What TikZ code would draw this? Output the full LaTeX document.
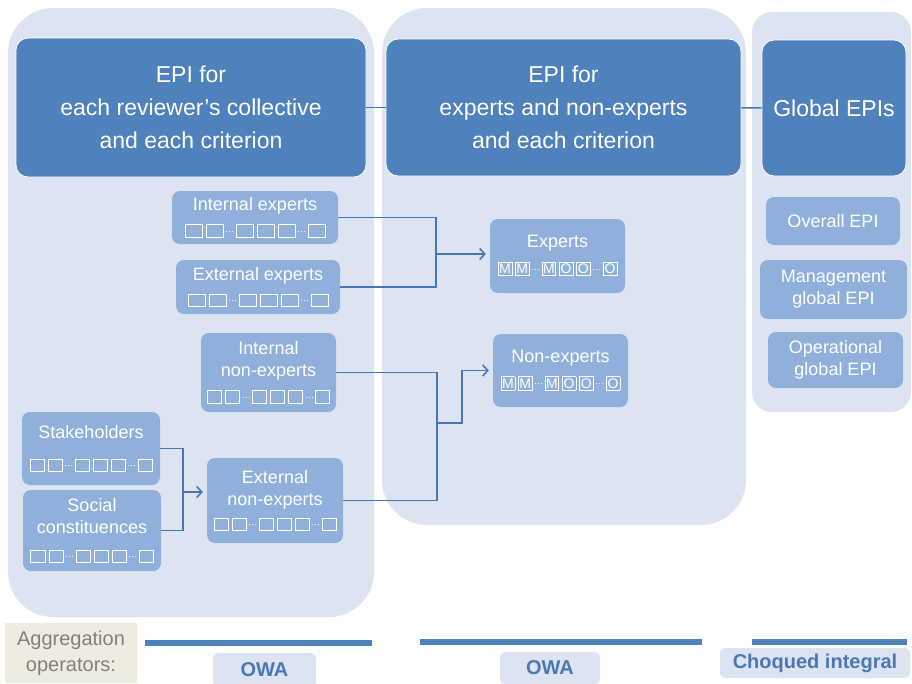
\documentclass[tikz,border=0pt]{standalone}
\usepackage{fontspec}
\setmainfont{Liberation Sans}
\usepackage{xcolor}
\usetikzlibrary{arrows.meta}

\definecolor{panelbg}{RGB}{220,228,241}
\definecolor{headblue}{RGB}{79,129,189}
\definecolor{subblue}{RGB}{143,176,218}
\definecolor{linkblue}{RGB}{70,118,182}
\definecolor{beige}{RGB}{238,236,225}
\definecolor{aggrgray}{RGB}{128,128,128}
\definecolor{opblue}{RGB}{75,120,180}

% little score boxes
\newcommand{\sqbox}[2][13pt]{{\setlength{\fboxsep}{0pt}\setlength{\fboxrule}{1pt}\fbox{\makebox[#1]{\rule[-1pt]{0pt}{11.5pt}#2}}}}
\newcommand{\lbox}[1]{{\setlength{\fboxsep}{0pt}\setlength{\fboxrule}{0.9pt}\fbox{\makebox[13pt]{\rule[-1.5pt]{0pt}{13pt}#1}}}}
\newcommand{\dotpt}{\rule{1pt}{1pt}}
\newcommand{\sqdots}{\makebox[12pt]{\color{white!85!subblue}\raisebox{4pt}{\dotpt\hspace{2pt}\dotpt\hspace{2pt}\dotpt}}}
\newcommand{\sqrow}[1][13pt]{\sqbox[#1]{}\,\sqbox[#1]{}\sqdots\sqbox[#1]{}\,\sqbox[#1]{}\,\sqbox[#1]{}\sqdots\sqbox[#1]{}}
\newcommand{\mrow}{{\fontsize{14}{14}\selectfont\lbox{M}\,\lbox{M}\sqdots\lbox{M}\,\lbox{O}\,\lbox{O}\sqdots\lbox{O}}}

\begin{document}
\begin{tikzpicture}[
  x=1pt, y=-1pt,
  panel/.style={fill=panelbg},
  head/.style={rectangle, rounded corners=12pt, fill=headblue, draw=white, thick, text=white,
               font=\fontsize{23}{33}\selectfont, align=center, inner sep=0pt},
  sub/.style={rectangle, rounded corners=8pt, fill=subblue, text=white,
              font=\fontsize{18}{22}\selectfont, align=center, inner sep=0pt},
  oper/.style={rectangle, rounded corners=5pt, fill=panelbg, text=opblue,
               font=\fontsize{20}{24}\selectfont\bfseries, inner sep=0pt},
  conn/.style={draw=linkblue, line width=1.6pt},
  arrow/.style={conn, -{Straight Barb[length=5pt, width=11pt]}, shorten >=4pt},
  bar/.style={draw=headblue, line width=6pt}
]
\useasboundingbox (0,0) rectangle (912,683);

% Panels
\fill[panel, rounded corners=45pt] (8,8) rectangle (374,617);
\fill[panel, rounded corners=45pt] (382,8) rectangle (746,525);
\fill[panel, rounded corners=20pt] (752,12) rectangle (911,412);

% Headers
\node[head, minimum width=350pt, minimum height=139pt] (h1) at (191,107.5) {EPI for\\each reviewer's collective\\and each criterion};
\node[head, minimum width=355pt, minimum height=137pt] (h2) at (563.5,107.5) {EPI for\\experts and non-experts\\and each criterion};
\node[head, minimum width=144pt, minimum height=136pt] (h3) at (834,108) {Global EPIs};

% Reviewer collectives
\node[sub, minimum width=166pt, minimum height=53pt] (intexp) at (255,217.5) {Internal experts\\[3pt]\sqrow[16pt]};
\node[sub, minimum width=164pt, minimum height=54pt] (extexp) at (258,287) {External experts\\[3pt]\sqrow[16pt]};
\node[sub, minimum width=135pt, minimum height=79pt] (intnon) at (268.5,372.5) {Internal\\non-experts\\[3pt]\sqrow};
\node[sub, minimum width=138pt, minimum height=73pt] (stake) at (91,448.5) {Stakeholders\\[10pt]\sqrow};
\node[sub, minimum width=138pt, minimum height=81pt] (social) at (92,530.5) {Social\\constituences\\[6pt]\sqrow};
\node[sub, minimum width=136pt, minimum height=85pt] (extnon) at (275,500.5) {External\\non-experts\\[2pt]\sqrow};

% Experts / non-experts
\node[sub, minimum width=135pt, minimum height=74pt] (experts) at (557.5,256) {Experts\\[4pt]\mrow};
\node[sub, minimum width=135pt, minimum height=73pt] (nonexp) at (560.5,370.5) {Non-experts\\[4pt]\mrow};

% Global EPIs
\node[sub, minimum width=134pt, minimum height=48pt] (overall) at (833,221) {Overall EPI};
\node[sub, minimum width=147pt, minimum height=59pt] (mgmt) at (833.5,289.5) {Management\\global EPI};
\node[sub, minimum width=135pt, minimum height=56pt] (operat) at (835.5,360) {Operational\\global EPI};

% Links
\draw[conn] (h1) -- (h2);
\draw[conn] (h2) -- (h3);

\coordinate (jexp) at (436,254);
\draw[conn] (intexp.east) -| (jexp);
\draw[conn] (extexp.east) -| (jexp);
\draw[arrow] (jexp) -- (jexp -| experts.west);

\coordinate (jnon) at (437,423);
\draw[conn] (intnon.east) -| (jnon);
\draw[conn] (extnon.east) -| (jnon);
\draw[arrow] (jnon) -- ++(25,0) |- (nonexp.west);

\coordinate (jstake) at (183,492);
\draw[conn] (stake.east) -| (jstake);
\draw[conn] (social.east) -| (jstake);
\draw[arrow] (jstake) -- (jstake -| extnon.west);

% Aggregation operators
\node[fill=beige, text=aggrgray, font=\fontsize{20}{26}\selectfont, align=center,
      minimum width=132pt, minimum height=60pt, inner sep=0pt] (aggr) at (71,653) {Aggregation\\operators:};
\draw[bar] (145,643) -- (372,643);
\draw[bar] (420,642) -- (702,642);
\draw[bar] (752,642) -- (907,642);
\node[oper, minimum width=103pt, minimum height=34pt] (owa1) at (264.5,670) {OWA};
\node[oper, minimum width=100pt, minimum height=32pt] (owa2) at (550,668) {OWA};
\node[oper, minimum width=190pt, minimum height=30pt] (choq) at (815,663) {Choqued integral};
\end{tikzpicture}
\end{document}
